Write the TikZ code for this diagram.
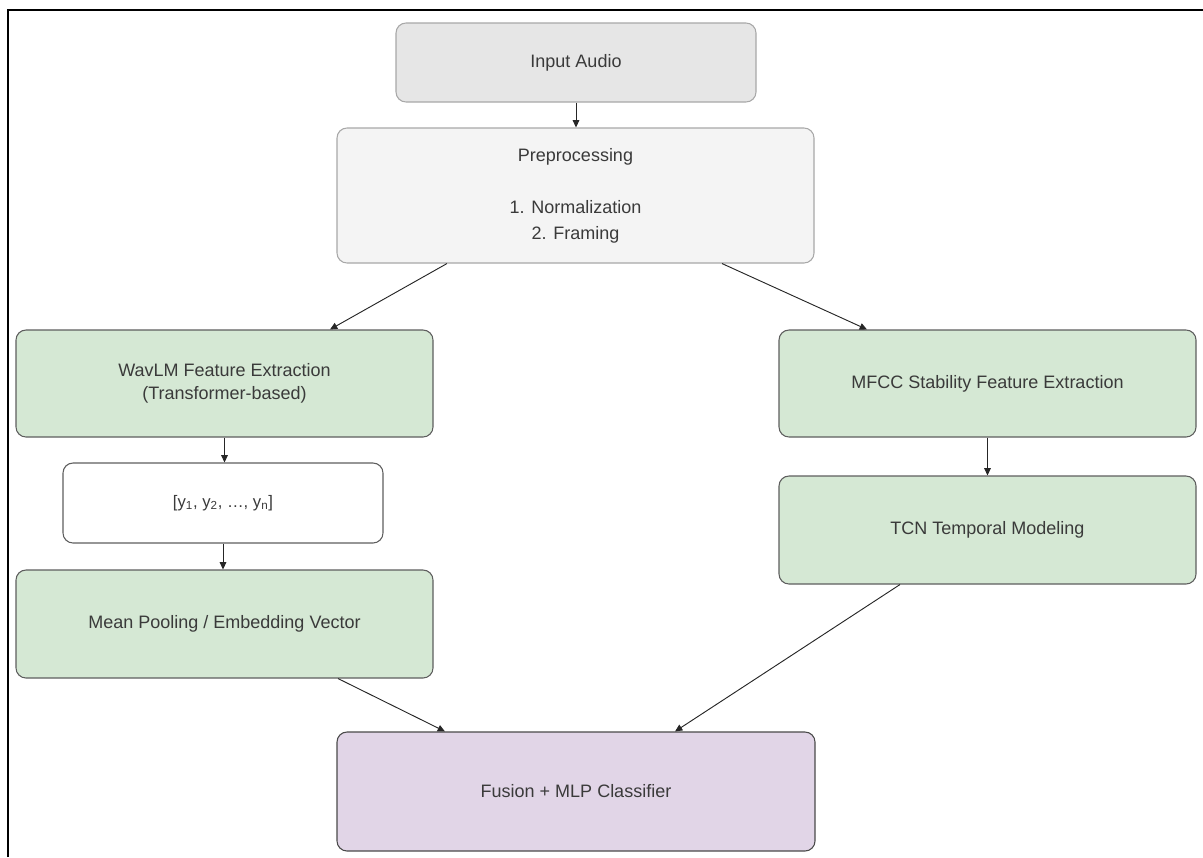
\documentclass[tikz,border=0pt]{standalone}
\usepackage{fontspec}
\setmainfont{Liberation Sans}
\usetikzlibrary{arrows.meta,calc}
\definecolor{txt}{HTML}{3A3A3A}
\definecolor{grayfill}{HTML}{E6E6E6}
\definecolor{lightfill}{HTML}{F4F4F4}
\definecolor{lightborder}{HTML}{A8A8A8}
\definecolor{greenfill}{HTML}{D5E8D4}
\definecolor{greenborder}{HTML}{5E5E5E}
\definecolor{purplefill}{HTML}{E1D5E7}
\definecolor{darkborder}{HTML}{4A4A4A}
\tikzset{
  box/.style={rectangle, rounded corners=7.5pt, inner sep=0pt, align=center,
    text=txt, line width=0.8pt, font=\fontsize{13.5}{19.5}\selectfont},
  graybox/.style={box, draw=lightborder, fill=grayfill},
  prebox/.style={box, draw=lightborder, fill=lightfill},
  greenbox/.style={box, draw=greenborder, fill=greenfill, minimum width=312.75pt},
  whitebox/.style={box, draw=greenborder, fill=white},
  purplebox/.style={box, draw=darkborder, fill=purplefill},
  conn/.style={draw=black!85, line width=0.7pt, -{Triangle[length=5.5pt,width=5pt]}},
  frameline/.style={draw=black, line width=1.5pt}
}
\begin{document}
\begin{tikzpicture}[x=0.75pt,y=-0.75pt]
\useasboundingbox (0,0) rectangle (1203,857);
\draw[frameline] (7.5,857) -- (7.5,10) -- (1203,10);

\node[graybox, minimum width=270pt, minimum height=59.25pt] (inp) at (576,62.5) {Input Audio};
\node[prebox, minimum width=357.75pt, minimum height=101.25pt] (pre) at (575.5,195.5)
  {Preprocessing\\[19.5pt]1. Normalization\\2. Framing};
\node[greenbox, minimum height=80.25pt, font=\fontsize{13.5}{17.25}\selectfont] (wav) at (224.5,383.5)
  {WavLM Feature Extraction\\(Transformer-based)};
\node[greenbox, minimum height=80.25pt] (mfcc) at (987.5,383.5) {MFCC Stability Feature Extraction};
\node[whitebox, minimum width=240pt, minimum height=60pt, font=\fontsize{12.5}{15}\selectfont] (ys) at (223,503)
  {[y\textsubscript{1}, y\textsubscript{2}, \dots, y\textsubscript{n}]};
\node[greenbox, minimum height=81pt] (mean) at (224.5,624) {Mean Pooling / Embedding Vector};
\node[greenbox, minimum height=81pt] (tcn) at (987.5,530) {TCN Temporal Modeling};
\node[purplebox, minimum width=358.5pt, minimum height=89.25pt] (fus) at (576,791.5) {Fusion + MLP Classifier};

\draw[conn] (inp.south) -- (inp.south |- pre.north);
\draw[conn] ($(pre.south)+(-128.5,0)$) -- ($(wav.north)+(105.5,0)$);
\draw[conn] ($(pre.south)+(146.5,0)$) -- ($(mfcc.north)+(-120.5,0)$);
\draw[conn] (wav.south) -- (wav.south |- ys.north);
\draw[conn] (ys.south) -- (ys.south |- mean.north);
\draw[conn] (mfcc.south) -- (tcn.north);
\draw[conn] ($(mean.south)+(113.5,0)$) -- ($(fus.north)+(-131,0)$);
\draw[conn] ($(tcn.south)+(-87.5,0)$) -- ($(fus.north)+(99,0)$);
\end{tikzpicture}
\end{document}
